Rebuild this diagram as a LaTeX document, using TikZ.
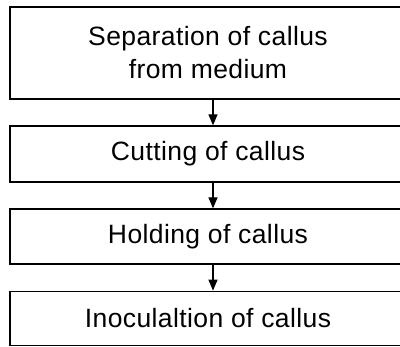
\documentclass[tikz,border=0pt]{standalone}
\usepackage{fontspec}
\setmainfont{Liberation Sans}[LetterSpace=1.5]
\usetikzlibrary{arrows.meta}
\begin{document}
\begin{tikzpicture}[x=1pt,y=-1pt,
  stepbox/.style={draw=black, line width=1.3pt, rectangle, minimum width=396pt, inner sep=0pt, align=center, font=\fontsize{26.5}{33}\selectfont},
  arr/.style={line width=1.3pt, -{Triangle[length=11pt,width=9pt]}}]
\useasboundingbox (0,0) rectangle (400,347);
\node[stepbox, minimum height=92pt] (b1) at (208,53) {Separation of callus\\from medium};
\node[stepbox, minimum height=56pt] (b2) at (208,154) {Cutting of callus};
\node[stepbox, minimum height=55pt] (b3) at (208,236.5) {Holding of callus};
\node[stepbox, minimum height=54.5pt] (b4) at (208,318.5) {Inoculaltion of callus};
\coordinate (ax) at (213,0);
\draw[arr] (b1.south -| ax) -- (b2.north -| ax);
\draw[arr] (b2.south -| ax) -- (b3.north -| ax);
\draw[arr] (b3.south -| ax) -- (b4.north -| ax);
\end{tikzpicture}
\end{document}
